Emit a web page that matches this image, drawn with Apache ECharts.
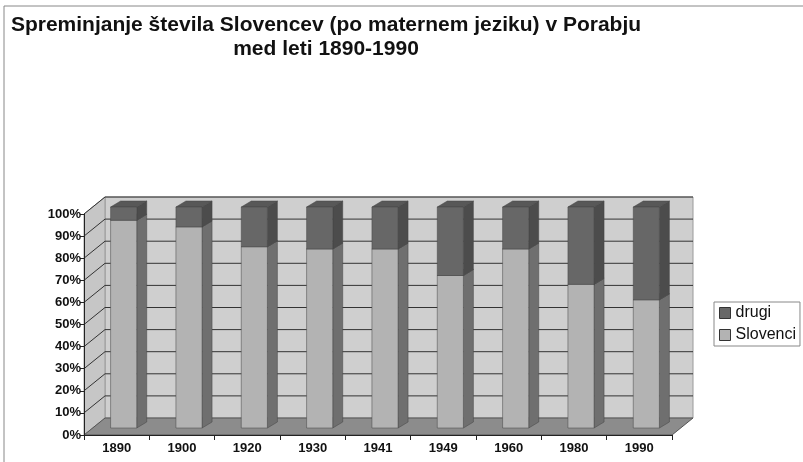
<!DOCTYPE html>
<html><head><meta charset="utf-8">
<script src="https://cdn.jsdelivr.net/npm/echarts@6/dist/echarts.min.js"></script>
<style>html,body{margin:0;padding:0;background:#fff}#c{width:803px;height:462px}</style>
</head><body><div id="c"></div>
<script>
// ---- data ----
const years = ['1890','1900','1920','1930','1941','1949','1960','1980','1990'];
const slovenci = [94, 91, 82, 81, 81, 69, 81, 65, 58];
const drugi    = [6, 9, 18, 19, 19, 31, 19, 35, 42];
const yTicks = [0, 10, 20, 30, 40, 50, 60, 70, 80, 90, 100];
const titleLine1 = 'Spreminjanje števila Slovencev (po maternem jeziku) v Porabju';
const titleLine2 = 'med leti 1890-1990';

// ---- styles ----
const FONT = '"Liberation Sans", Arial, sans-serif';
const DX = 21, DY = -17;       // depth of the 3D box
const FX = 7, FY = -7;         // bar front face offset into depth
const SX = 10, SY = -6;        // bar depth
const BAR_RATIO = 0.4;
const C = {
  backWall: '#cfcfcf', sideWall: '#c6c6c6', floor: '#8c8c8c', grid: '#333333',
  sloFront: '#b3b3b3', sloSide: '#6f6f6f', sloTop: '#8a8a8a',
  druFront: '#676767', druSide: '#4c4c4c', druTop: '#585858'
};

function renderWalls(params, api) {
  const cs = params.coordSys;
  const x0 = cs.x, x1 = cs.x + cs.width, yt = cs.y, yb = cs.y + cs.height;
  const ch = [];
  ch.push({type: 'polygon', shape: {points: [[x0+DX, yt+DY], [x1+DX, yt+DY], [x1+DX, yb+DY], [x0+DX, yb+DY]]},
           style: {fill: C.backWall, stroke: '#9a9a9a', lineWidth: 1}});
  ch.push({type: 'polygon', shape: {points: [[x0, yt], [x0+DX, yt+DY], [x0+DX, yb+DY], [x0, yb]]},
           style: {fill: C.sideWall, stroke: '#9a9a9a', lineWidth: 1}});
  ch.push({type: 'polygon', shape: {points: [[x0, yb], [x0+DX, yb+DY], [x1+DX, yb+DY], [x1, yb]]},
           style: {fill: C.floor, stroke: '#555', lineWidth: 1}});
  yTicks.forEach(function (v) {
    if (v === 0) return;
    const y = api.coord([0, v])[1];
    ch.push({type: 'line', shape: {x1: x0+DX, y1: y+DY, x2: x1+DX, y2: y+DY}, style: {stroke: C.grid, lineWidth: 1}});
    ch.push({type: 'line', shape: {x1: x0, y1: y, x2: x0+DX, y2: y+DY}, style: {stroke: C.grid, lineWidth: 1}});
  });
  return {type: 'group', children: ch};
}

function barRenderer(front, side, top) {
  return function (params, api) {
    const i = api.value(0), b = api.value(1), t = api.value(2);
    const pb = api.coord([i, b]), pt = api.coord([i, t]);
    const bw = api.size([1, 0])[0] * BAR_RATIO;
    const xl = pb[0] - bw / 2 + FX, xr = xl + bw;
    const yb = pb[1] + FY, yt = pt[1] + FY;
    const st = {stroke: '#444', lineWidth: 0.5};
    return {type: 'group', children: [
      {type: 'polygon', shape: {points: [[xr, yt], [xr+SX, yt+SY], [xr+SX, yb+SY], [xr, yb]]}, style: Object.assign({fill: side}, st)},
      {type: 'polygon', shape: {points: [[xl, yt], [xl+SX, yt+SY], [xr+SX, yt+SY], [xr, yt]]}, style: Object.assign({fill: top}, st)},
      {type: 'polygon', shape: {points: [[xl, yt], [xr, yt], [xr, yb], [xl, yb]]}, style: Object.assign({fill: front}, st)}
    ]};
  };
}

const chart = echarts.init(document.getElementById('c'), null, {renderer: 'canvas'});
chart.setOption({
  backgroundColor: '#fff',
  animation: false,
  textStyle: {fontFamily: FONT},
  grid: {left: 84, top: 214, width: 588, height: 221},
  graphic: [
    {type: 'rect', shape: {x: 4, y: 6, width: 830, height: 520}, style: {fill: null, stroke: '#888', lineWidth: 1}, z: -1},
    {type: 'text', x: 326, y: 25, style: {text: titleLine1, font: 'bold 21px ' + FONT, fill: '#111', textAlign: 'center', textVerticalAlign: 'middle'}},
    {type: 'text', x: 326, y: 49, style: {text: titleLine2, font: 'bold 21px ' + FONT, fill: '#111', textAlign: 'center', textVerticalAlign: 'middle'}}
  ],
  legend: {
    data: ['drugi', 'Slovenci'], orient: 'vertical', left: 714, top: 302,
    itemWidth: 11, itemHeight: 11, itemGap: 6, padding: [3, 4, 3, 5], icon: 'rect',
    borderColor: '#888', borderWidth: 1,
    itemStyle: {borderColor: '#333', borderWidth: 1},
    textStyle: {fontSize: 16, fontFamily: FONT, color: '#111'}
  },
  xAxis: {
    type: 'category', data: years, z: 10,
    axisLine: {lineStyle: {color: '#222', width: 1}},
    axisTick: {show: true, length: 5, lineStyle: {color: '#222'}},
    axisLabel: {fontWeight: 'bold', fontSize: 13, color: '#111', margin: 7, fontFamily: FONT},
    splitLine: {show: false}
  },
  yAxis: {
    type: 'value', min: 0, max: 100, interval: 10, z: 10,
    axisLine: {show: true, lineStyle: {color: '#222', width: 1}},
    axisTick: {show: true, length: 4, lineStyle: {color: '#222'}},
    axisLabel: {formatter: '{value}%', fontWeight: 'bold', fontSize: 13, color: '#111', margin: 3, fontFamily: FONT},
    splitLine: {show: false}
  },
  series: [
    {type: 'custom', name: 'walls', z: 1, renderItem: renderWalls, data: [[0, 0]], silent: true},
    {type: 'custom', name: 'Slovenci', z: 2, itemStyle: {color: C.sloFront},
     renderItem: barRenderer(C.sloFront, C.sloSide, C.sloTop),
     data: slovenci.map(function (v, i) { return [i, 0, v]; })},
    {type: 'custom', name: 'drugi', z: 3, itemStyle: {color: C.druFront},
     renderItem: barRenderer(C.druFront, C.druSide, C.druTop),
     data: drugi.map(function (v, i) { return [i, slovenci[i], slovenci[i] + v]; })}
  ]
});
</script>
</body></html>
